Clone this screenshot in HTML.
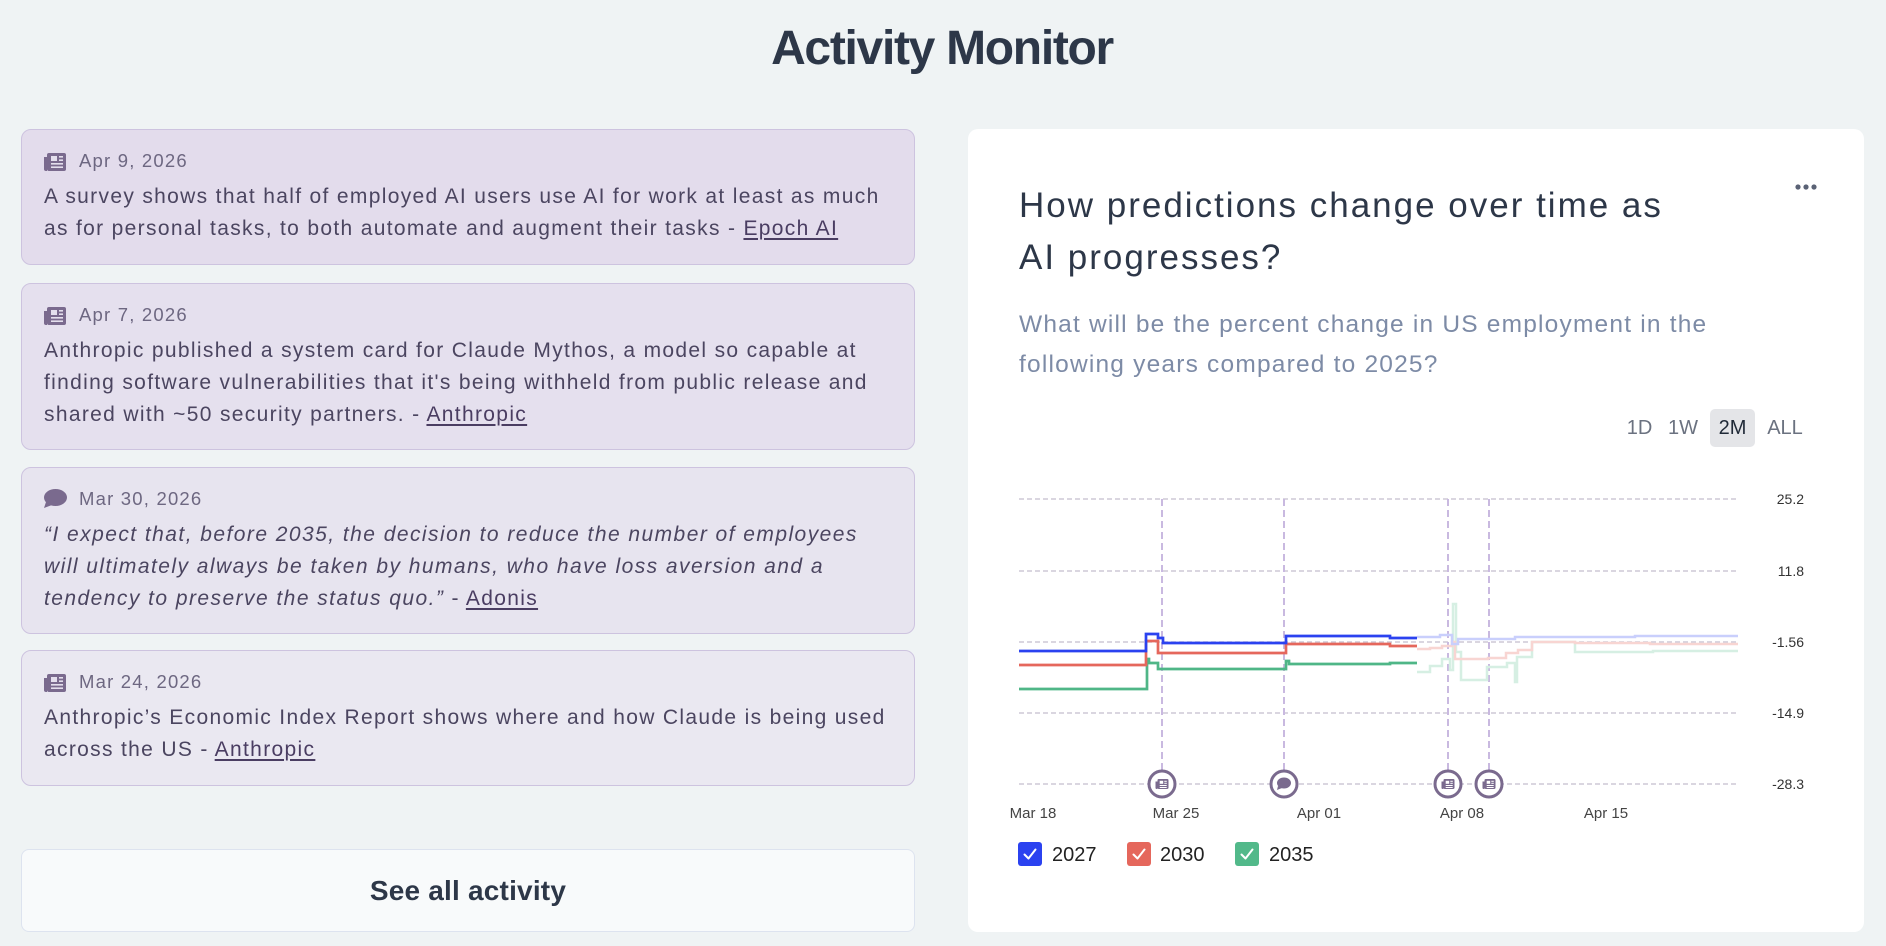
<!DOCTYPE html>
<html><head><meta charset="utf-8"><style>
*{margin:0;padding:0;box-sizing:border-box}
html,body{width:1886px;height:946px;overflow:hidden;background:#eff3f4;font-family:"Liberation Sans",Arial,sans-serif}
.a{position:absolute;white-space:nowrap}
.card{position:absolute;left:21px;width:894px;border:1px solid #cdc3df;border-radius:10px}
.date{position:absolute;left:79px;font-size:18.5px;line-height:24px;letter-spacing:1.2px;color:#6d6781}
.body{position:absolute;left:44px;font-size:21px;line-height:32px;letter-spacing:1.33px;color:#4b4560;white-space:nowrap}
.body i{letter-spacing:1.45px}
.body u{text-decoration:underline;text-decoration-thickness:1.5px;text-underline-offset:3px;color:#4a3d62}
.tb{position:absolute;top:409px;height:38px;line-height:38px;font-size:20px;color:#6b7280;text-align:center}
</style></head><body>

<div class="a" style="left:0;width:1884px;text-align:center;top:25px;font-size:48px;line-height:48px;font-weight:700;letter-spacing:-1.3px;color:#2d3748">Activity Monitor</div>

<div class="card" style="top:129px;height:136px;background:#e3dcec"></div>
<div class="card" style="top:283px;height:167px;background:#e5e0ee"></div>
<div class="card" style="top:467px;height:167px;background:#e7e4ef"></div>
<div class="card" style="top:650px;height:136px;background:#eae8f1"></div>

<div class="date" style="top:148.6px">Apr 9, 2026</div>
<div class="body" style="top:180.7px">A survey shows that half of employed AI users use AI for work at least as much<br>as for personal tasks, to both automate and augment their tasks - <u>Epoch AI</u></div>

<div class="date" style="top:302.6px">Apr 7, 2026</div>
<div class="body" style="top:334.7px">Anthropic published a system card for Claude Mythos, a model so capable at<br>finding software vulnerabilities that it's being withheld from public release and<br>shared with ~50 security partners. - <u>Anthropic</u></div>

<div class="date" style="top:486.6px">Mar 30, 2026</div>
<div class="body" style="top:518.7px"><i>“I expect that, before 2035, the decision to reduce the number of employees<br>will ultimately always be taken by humans, who have loss aversion and a<br>tendency to preserve the status quo.”</i> - <u>Adonis</u></div>

<div class="date" style="top:669.6px">Mar 24, 2026</div>
<div class="body" style="top:701.7px">Anthropic’s Economic Index Report shows where and how Claude is being used<br>across the US - <u>Anthropic</u></div>

<div class="a" style="left:21px;top:849px;width:894px;height:83px;background:#f8fafb;border:1px solid #dde3ef;border-radius:8px"></div>
<div class="a" style="left:21px;top:849px;width:894px;height:83px;line-height:83px;text-align:center;font-size:28px;font-weight:700;letter-spacing:0.2px;color:#2d3748">See all activity</div>

<div class="a" style="left:968px;top:129px;width:896px;height:803px;background:#fff;border-radius:10px"></div>

<div class="a" style="left:1019px;top:180px;font-size:35px;line-height:52px;letter-spacing:2px;color:#2d3748">How predictions change over time as<br>AI progresses?</div>
<div class="a" style="left:1019px;top:304.5px;font-size:24.5px;line-height:40px;letter-spacing:1.2px;color:#7d8ba6">What will be the percent change in US employment in the<br>following years compared to 2025?</div>

<div class="tb" style="left:1620px;width:39px">1D</div>
<div class="tb" style="left:1663px;width:40px">1W</div>
<div class="tb" style="left:1710px;width:45px;background:#e4e5e8;border-radius:5px;color:#1f2937">2M</div>
<div class="tb" style="left:1763px;width:44px">ALL</div>

<svg class="a" style="left:0;top:0" width="1886" height="946" viewBox="0 0 1886 946" xmlns="http://www.w3.org/2000/svg">
  <g fill="#5a6275"><circle cx="1798" cy="187" r="2.6"/><circle cx="1806" cy="187" r="2.6"/><circle cx="1814" cy="187" r="2.6"/></g>

  <defs>
    <g id="np">
      <rect x="3" y="0" width="19" height="18" rx="2" fill="#7a6a8e"/>
      <path d="M0 4 H3 V18 H2 Q0 18 0 16 Z" fill="#7a6a8e"/>
      <rect x="7" y="3" width="6" height="5" fill="#e4dfed"/>
      <rect x="15" y="3" width="4" height="1.6" fill="#e4dfed"/>
      <rect x="15" y="6.4" width="4" height="1.6" fill="#e4dfed"/>
      <rect x="7" y="10" width="12" height="1.6" fill="#e4dfed"/>
      <rect x="7" y="13.4" width="12" height="1.6" fill="#e4dfed"/>
    </g>
    <g id="chat">
      <ellipse cx="11.5" cy="8.5" rx="11.5" ry="8.5" fill="#7a6a8e"/>
      <path d="M2 13 L0 19 L8 16 Z" fill="#7a6a8e"/>
    </g>
  </defs>
  <use href="#np" x="44" y="153"/>
  <use href="#np" x="44" y="307"/>
  <use href="#chat" x="44" y="489"/>
  <use href="#np" x="44" y="674"/>

  <g stroke="#cdc8d6" stroke-width="1.5" stroke-dasharray="5 3">
    <line x1="1019" y1="499" x2="1736" y2="499"/>
    <line x1="1019" y1="571" x2="1736" y2="571"/>
    <line x1="1019" y1="642" x2="1736" y2="642"/>
    <line x1="1019" y1="713" x2="1736" y2="713"/>
    <line x1="1019" y1="784" x2="1736" y2="784"/>
  </g>
  <g font-size="14" fill="#333" text-anchor="end" font-family="Liberation Sans, Arial, sans-serif">
    <text x="1804" y="504">25.2</text>
    <text x="1804" y="576">11.8</text>
    <text x="1804" y="647">-1.56</text>
    <text x="1804" y="718">-14.9</text>
    <text x="1804" y="789">-28.3</text>
  </g>
  <g stroke="#c9b9e0" stroke-width="2" stroke-dasharray="7 4">
    <line x1="1162" y1="499" x2="1162" y2="771"/>
    <line x1="1284" y1="499" x2="1284" y2="771"/>
    <line x1="1448" y1="499" x2="1448" y2="771"/>
    <line x1="1489" y1="499" x2="1489" y2="771"/>
  </g>

  <g fill="none" stroke-width="2.5">
    <path d="M1417,672 H1430 V666 H1442 V659 H1450 V670 H1453 V604 H1456 V652 H1461 V680 H1487 V667 H1507 V663 H1515 V682 H1517 V657 H1532 V642 H1575 V652 H1653 V651 H1738" stroke="#d6efe3"/>
    <path d="M1417,649 H1430 V648 H1442 V646 H1452 V642 H1455 V659 H1488 V658 H1506 V653 H1518 V650 H1532 V642 H1575 V643 H1650 V644 H1738" stroke="#f8d5d2"/>
    <path d="M1417,637 H1440 V635 H1452 V644 H1458 V639 H1515 V637 H1635 V636 H1738" stroke="#c9cffc"/>
  </g>
  <g fill="none" stroke-width="2.7">
    <path d="M1019,689 H1147 V659 H1149 V663 H1158 V669 H1286 V661 H1289 V664 H1390 V663 H1417" stroke="#4fb687"/>
    <path d="M1019,665 H1146 V641 H1158 V653 H1286 V644 H1390 V646 H1417" stroke="#e5675c"/>
    <path d="M1019,651 H1146 V634 H1158 V638 H1163 V643 H1286 V636 H1390 V638 H1417" stroke="#2b42f0"/>
  </g>

  <defs>
    <g id="mnp">
      <rect x="2" y="0" width="11" height="10" rx="1.2" fill="#7a6a8e"/>
      <path d="M0 2.5 H2 V10 H1.2 Q0 10 0 9 Z" fill="#7a6a8e"/>
      <rect x="4.2" y="1.8" width="3.5" height="3" fill="#fff"/>
      <rect x="8.8" y="1.8" width="2.5" height="1" fill="#fff"/>
      <rect x="8.8" y="3.8" width="2.5" height="1" fill="#fff"/>
      <rect x="4.2" y="6" width="7" height="1" fill="#fff"/>
      <rect x="4.2" y="8" width="7" height="1" fill="#fff"/>
    </g>
  </defs>
  <g stroke="#7a6a8e" stroke-width="3" fill="#fff">
    <circle cx="1162" cy="784" r="13"/>
    <circle cx="1284" cy="784" r="13"/>
    <circle cx="1448" cy="784" r="13"/>
    <circle cx="1489" cy="784" r="13"/>
  </g>
  <use href="#mnp" x="1155.5" y="779"/>
  <use href="#mnp" x="1441.5" y="779"/>
  <use href="#mnp" x="1482.5" y="779"/>
  <ellipse cx="1284" cy="783" rx="7" ry="5.5" fill="#7a6a8e"/>
  <path d="M1278 786 L1277 790 L1282 788 Z" fill="#7a6a8e"/>

  <g font-size="15" fill="#444" text-anchor="middle" font-family="Liberation Sans, Arial, sans-serif">
    <text x="1033" y="818">Mar 18</text>
    <text x="1176" y="818">Mar 25</text>
    <text x="1319" y="818">Apr 01</text>
    <text x="1462" y="818">Apr 08</text>
    <text x="1606" y="818">Apr 15</text>
  </g>

  <rect x="1018" y="842" width="24" height="24" rx="3" fill="#2b42f0"/>
  <rect x="1127" y="842" width="24" height="24" rx="3" fill="#e5675c"/>
  <rect x="1235" y="842" width="24" height="24" rx="3" fill="#52b98a"/>
  <g fill="none" stroke="#fff" stroke-width="2" stroke-linecap="round" stroke-linejoin="round">
    <path d="M1024.5 854.5 L1028.5 858.5 L1035.5 849.5"/>
    <path d="M1133.5 854.5 L1137.5 858.5 L1144.5 849.5"/>
    <path d="M1241.5 854.5 L1245.5 858.5 L1252.5 849.5"/>
  </g>
  <g font-size="20" fill="#222" font-family="Liberation Sans, Arial, sans-serif">
    <text x="1052" y="861">2027</text>
    <text x="1160" y="861">2030</text>
    <text x="1269" y="861">2035</text>
  </g>
</svg>
</body></html>
